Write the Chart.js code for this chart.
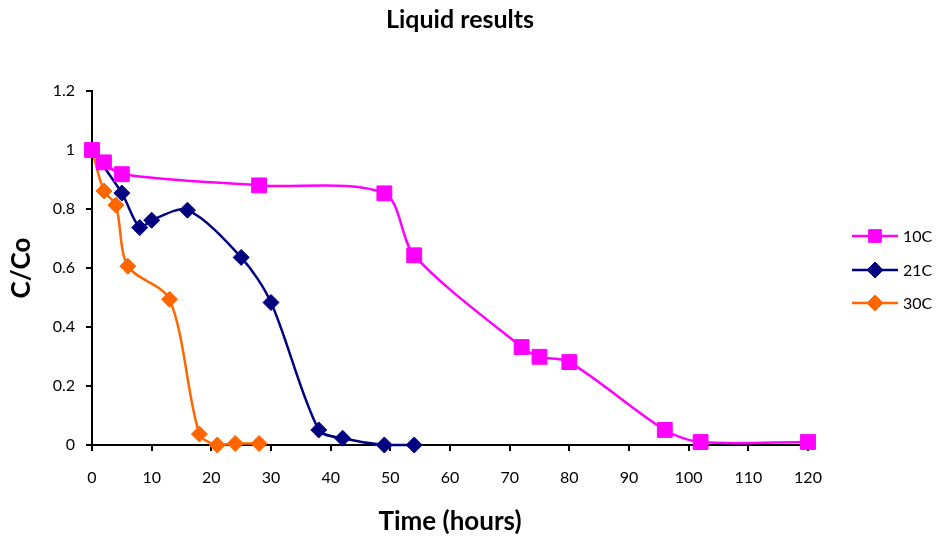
<!DOCTYPE html>
<html>
<head>
<meta charset="utf-8">
<title>Liquid results</title>
<script src="https://cdn.jsdelivr.net/npm/chart.js@4.4.1/dist/chart.umd.min.js"></script>
<style>
  html, body { margin: 0; padding: 0; background: #fff; }
  #wrap { width: 938px; height: 539px; }
</style>
</head>
<body>
<div id="wrap"><canvas id="grafico" width="938" height="539"></canvas></div>
<script>
// sampling times (hours) and C/Co for each temperature
const horas10 = [0, 2, 5, 28, 49, 54, 72, 75, 80, 96, 102, 120];
const valores10 = [1.0, 0.958, 0.918, 0.88, 0.853, 0.643, 0.332, 0.299, 0.281, 0.051, 0.01, 0.01];

const horas21 = [0, 5, 8, 10, 16, 25, 30, 38, 42, 49, 54];
const valores21 = [1.0, 0.854, 0.737, 0.762, 0.796, 0.636, 0.483, 0.051, 0.023, 0.0, 0.0];

const horas30 = [0, 2, 4, 6, 13, 18, 21, 24, 28];
const valores30 = [1.0, 0.861, 0.813, 0.606, 0.494, 0.037, 0.0, 0.005, 0.005];

const series = ['10C', '21C', '30C'];
const xTicks = [0, 10, 20, 30, 40, 50, 60, 70, 80, 90, 100, 110, 120];
const yTicks = [0, 0.2, 0.4, 0.6, 0.8, 1, 1.2];

const fuente = 'Lato, "Open Sans", sans-serif';

function puntos(xs, ys) {
    return xs.map((x, i) => ({ x: x, y: ys[i] }));
}

function serie(label, data, color, estilo, radio) {
    return {
        label: label,
        data: data,
        showLine: true,
        clip: false,
        borderColor: color,
        backgroundColor: color,
        borderWidth: 2.5,
        tension: 0.3,
        pointStyle: estilo,
        pointRadius: radio,
        pointHoverRadius: radio,
        pointBorderWidth: 1,
        pointBorderColor: color,
        pointBackgroundColor: color
    };
}

// title on top and legend on the right (short line with the marker on top)
const decoracion = {
    id: 'decoracion',
    afterDraw(chart) {
        const ctx = chart.ctx;
        ctx.save();
        ctx.fillStyle = '#000';
        ctx.font = 'bold 25px ' + fuente;
        ctx.textAlign = 'center';
        ctx.textBaseline = 'middle';
        ctx.fillText('Liquid results', 460, 20);
        ctx.restore();

        const filas = [236, 270, 303];
        chart.data.datasets.forEach((ds, i) => {
            const y = filas[i];
            ctx.save();
            ctx.strokeStyle = ds.borderColor;
            ctx.lineWidth = 2.5;
            ctx.beginPath();
            ctx.moveTo(852, y);
            ctx.lineTo(898, y);
            ctx.stroke();
            ctx.fillStyle = ds.backgroundColor;
            ctx.strokeStyle = ds.borderColor;
            ctx.lineWidth = 1;
            Chart.helpers.drawPoint(ctx, {
                pointStyle: ds.pointStyle,
                radius: ds.pointStyle === 'rect' ? 9 : 8,
                rotation: 0,
                borderWidth: 1
            }, 875, y);
            ctx.fillStyle = '#000';
            ctx.font = '16px ' + fuente;
            ctx.textBaseline = 'middle';
            ctx.textAlign = 'left';
            ctx.fillText(ds.label, 903, y + 1);
            ctx.restore();
        });
    }
};

const ctx = document.getElementById('grafico').getContext('2d');
const chart = new Chart(ctx, {
    type: 'scatter',
    data: {
        datasets: [
            serie(series[0], puntos(horas10, valores10), '#FF00FF', 'rect', 10.5),
            serie(series[1], puntos(horas21, valores21), '#000080', 'rectRot', 8),
            serie(series[2], puntos(horas30, valores30), '#FF6600', 'rectRot', 8)
        ]
    },
    options: {
        responsive: false,
        animation: false,
        layout: { padding: { top: 91, right: 130, bottom: 0, left: 0 } },
        plugins: {
            legend: { display: false },
            tooltip: { enabled: false },
            title: { display: false }
        },
        scales: {
            x: {
                type: 'linear',
                min: 0,
                max: 120,
                afterBuildTicks: s => { s.ticks = xTicks.map(v => ({ value: v })); },
                afterFit: s => { s.height = 94; },
                border: { display: true, color: '#000', width: 2 },
                grid: { drawOnChartArea: false, drawTicks: true, tickLength: 6, color: '#000', lineWidth: 2 },
                ticks: {
                    color: '#000',
                    padding: 17,
                    maxRotation: 0,
                    font: { family: fuente, size: 16 },
                    callback: v => String(v)
                },
                title: {
                    display: true,
                    text: 'Time (hours)',
                    color: '#000',
                    font: { family: fuente, size: 26, weight: 'bold' },
                    padding: { top: 0, bottom: 2 }
                }
            },
            y: {
                type: 'linear',
                min: 0,
                max: 1.2,
                afterBuildTicks: s => { s.ticks = yTicks.map(v => ({ value: v })); },
                afterFit: s => { s.width = 92; },
                border: { display: true, color: '#000', width: 2 },
                grid: { drawOnChartArea: false, drawTicks: true, tickLength: 6, color: '#000', lineWidth: 2 },
                ticks: {
                    color: '#000',
                    padding: 11,
                    font: { family: fuente, size: 16 },
                    callback: v => String(Number(v.toFixed(1)))
                },
                title: {
                    display: true,
                    text: 'C/Co',
                    color: '#000',
                    font: { family: fuente, size: 26, weight: 'bold' },
                    padding: { top: 6, bottom: 0 }
                }
            }
        }
    },
    plugins: [decoracion]
});
</script>
</body>
</html>
